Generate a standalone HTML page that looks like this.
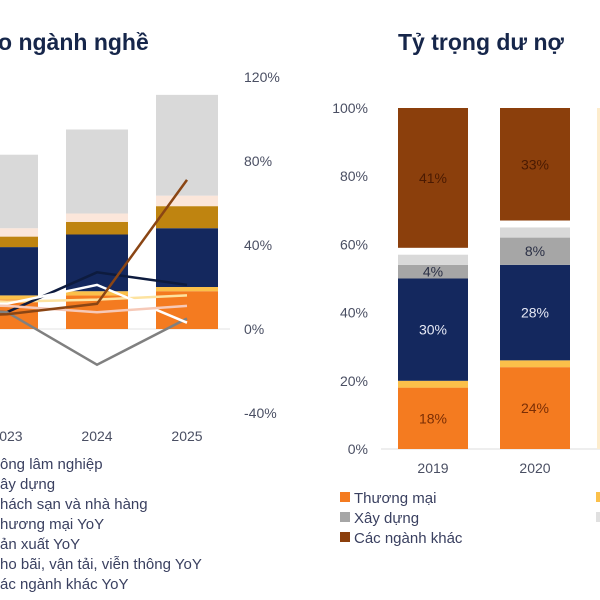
<!DOCTYPE html>
<html><head><meta charset="utf-8"><style>
body{margin:0;background:#fff;}
svg{display:block;font-family:"Liberation Sans",sans-serif;}
</style></head><body>
<svg id="c" width="600" height="600" viewBox="0 0 600 600">
<rect width="600" height="600" fill="#fff"/>
<text x="-2" y="50" font-size="23" font-weight="bold" fill="#16264a">o ngành nghề</text>
<text x="398" y="50" font-size="23" font-weight="bold" fill="#16264a">Tỷ trọng dư nợ</text>
<g id="L"></g><g id="R"></g>
</svg>
<script>
// ---- left chart data ----
const leftYears = ["2022","2023","2024","2025"];
const leftSegNames = ["Thương mại","Nông lâm nghiệp","Sản xuất","Xây dựng","Khách sạn","Khác"];
const leftSegColors = ["#f47b20","#fbc04a","#14285e","#bf8410","#fbe6da","#d9d9d9"];
const leftStack = [
 [12,2,20,5,4,30],
 [14,2,23,5,4,35],
 [16,2,27,6,4,40],
 [18,2,28,10.5,5,48]
];
const rightTicks = ["120%","80%","40%","0%","-40%"];
const rightTickVals = [120,80,40,0,-40];
const lineNames = ["Thương mại YoY","Sản xuất YoY","Kho bãi YoY","Khách sạn YoY","Nông lâm YoY","Các ngành khác YoY"];
const lineColors = ["#fde3a0","#0d1b3e","#808080","#ffffff","#f6c9b8","#8a4514"];
const lineValues = [
 [14,13,14,16],
 [10,8,27,21],
 [10,8,-17,5],
 [12,12,21,3],
 [12,11,8,11],
 [6,7,12,71]
];
const leftLegend = ["ông lâm nghiệp","ây dựng","hách sạn và nhà hàng","hương mại YoY","ản xuất YoY","ho bãi, vận tải, viễn thông YoY","ác ngành khác YoY"];

// ---- right chart data ----
const rightYears = ["2019","2020"];
const rightSegColors = ["#f47b20","#fbc04a","#14285e","#a6a6a6","#d9d9d9","#ffffff","#8b3f0c"];
const rightStack = [
 [18,2,30,4,3,2,41],
 [24,2,28,8,3,2,33]
];
const rightLabels = [
 ["18%",null,"30%","4%",null,null,"41%"],
 ["24%",null,"28%","8%",null,null,"33%"]
];
const rightLabelColors = ["#7a2e05",null,"#e6e9f5","#2a2f45",null,null,"#4a1a02"];
const pctTicks = ["0%","20%","40%","60%","80%","100%"];
const pctTickVals = [0,20,40,60,80,100];
const rightLegend = ["Thương mại","Xây dựng","Các ngành khác"];
const rightLegendColors = ["#f47b20","#a6a6a6","#8b3f0c"];

const NS="http://www.w3.org/2000/svg";
function mk(p,t,a){const e=document.createElementNS(NS,t);for(const k in a)e.setAttribute(k,a[k]);p.appendChild(e);return e;}
const L=document.getElementById('L'), R=document.getElementById('R');

// left axes
const ly=v=>329-v*2.1;
const lx=i=>-83+i*90;
const bw=62;
mk(L,'line',{x1:0,x2:230,y1:329,y2:329,stroke:'#e3e3e3','stroke-width':1});
leftStack.forEach((s,i)=>{let acc=0;s.forEach((v,j)=>{
 const r=mk(L,'rect',{x:lx(i)-bw/2,y:ly(acc+v),width:bw,height:v*2.1,fill:leftSegColors[j]});
 
 
 acc+=v;});
 const t=mk(L,'text',{x:lx(i),y:441,'font-size':14,fill:'#4a4f63','text-anchor':'middle'});t.textContent=leftYears[i];
 
 
});
rightTickVals.forEach((v,i)=>{const t=mk(L,'text',{x:244,y:ly(v)+5,'font-size':14,fill:'#4a4f63'});t.textContent=rightTicks[i];
 
 });
lineValues.forEach((vals,k)=>{
 const p=mk(L,'polyline',{points:vals.map((v,i)=>lx(i)+','+ly(v)).join(' '),fill:'none',stroke:lineColors[k],'stroke-width':2.5});
 
 
});
leftLegend.forEach((s,i)=>{const t=mk(L,'text',{x:0,y:469+i*20,'font-size':15,fill:'#3a4060'});t.textContent=s;
 
 });

// right chart
const ry=v=>449-v*3.41;
const rx=i=>433+i*102;
const rbw=70;
mk(R,'line',{x1:381,x2:600,y1:449,y2:449,stroke:'#dcdcdc','stroke-width':1});
pctTickVals.forEach((v,i)=>{const t=mk(R,'text',{x:368,y:ry(v)+5,'font-size':14,fill:'#4a4f63','text-anchor':'end'});t.textContent=pctTicks[i];
 
 });
rightStack.forEach((s,i)=>{let acc=0;s.forEach((v,j)=>{
 const r=mk(R,'rect',{x:rx(i)-rbw/2,y:ry(acc+v),width:rbw,height:v*3.41,fill:rightSegColors[j]});
 
 
 const lab=rightLabels[i][j];
 if(lab){const t=mk(R,'text',{x:rx(i),y:ry(acc+v/2)+5,'font-size':14,fill:rightLabelColors[j],'text-anchor':'middle'});t.textContent=lab;
  
  }
 acc+=v;});
 const t=mk(R,'text',{x:rx(i),y:473,'font-size':14,fill:'#4a4f63','text-anchor':'middle'});t.textContent=rightYears[i];
 
 
});
mk(R,'rect',{x:597,y:108,width:3,height:341,fill:'#fdeccc'});
rightLegend.forEach((s,i)=>{
 mk(R,'rect',{x:340,y:492+i*20,width:10,height:10,fill:rightLegendColors[i]});
 const t=mk(R,'text',{x:354,y:503+i*20,'font-size':15,fill:'#3a4060'});t.textContent=s;
 
 });
mk(R,'rect',{x:596,y:492,width:4,height:10,fill:'#fbc04a'});
mk(R,'rect',{x:596,y:512,width:4,height:10,fill:'#e0e0e0'});
</script>
</body></html>
